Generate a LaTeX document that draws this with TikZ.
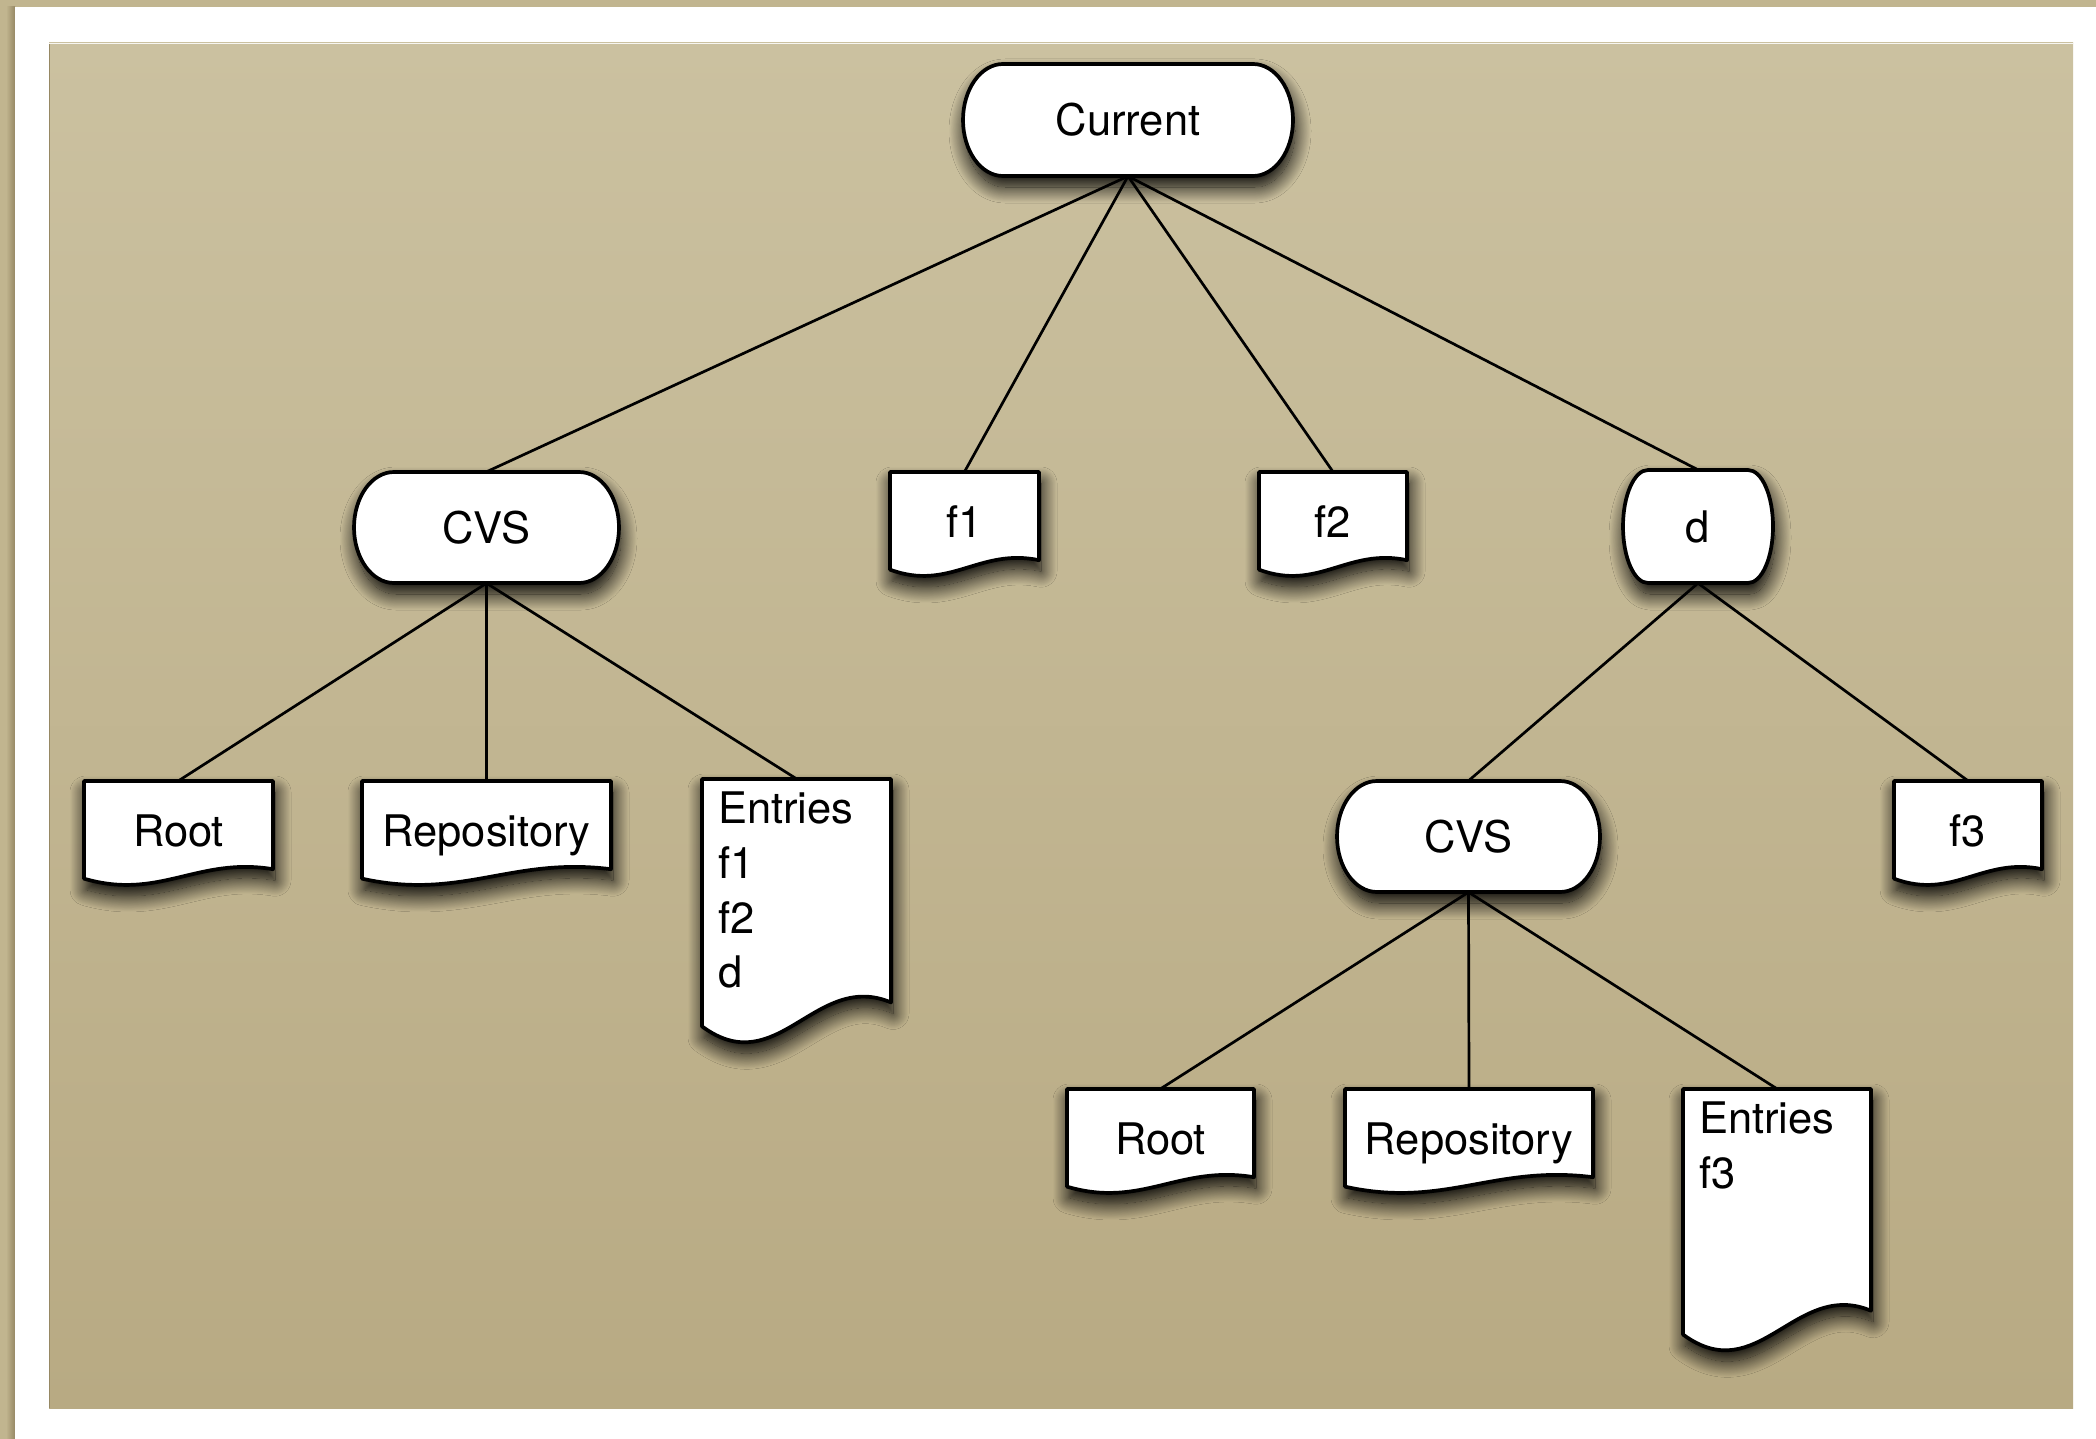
\documentclass[tikz,border=0pt]{standalone}
\usepackage{fontspec}
\setmainfont{TeX Gyre Heros}
\usetikzlibrary{shadows.blur}

\definecolor{paneltop}{RGB}{203,193,160}
\definecolor{panelbottom}{RGB}{184,170,131}
\definecolor{rimtan}{RGB}{193,181,143}
\definecolor{rimdark}{RGB}{150,136,100}

\newcommand\treefont{\fontsize{43.5}{54.7}\selectfont}

\tikzset{
  outline/.style={draw=black, line width=3.7pt, fill=white, line join=round,
    blur shadow={shadow xshift=2pt, shadow yshift=-11pt, shadow blur radius=16pt,
      shadow opacity=100, shadow blur steps=24}},
  link/.style={draw=black, line width=2.7pt},
  holder/.style={rectangle, draw=none, inner sep=0pt, font=\treefont,
    text height=31pt, text depth=0pt},
  docholder/.style={holder, text depth=5pt},
  listtext/.style={anchor=north west, align=left, inner sep=0pt, font=\treefont},
}

% document sheet with a wavy lower edge: centre (#1,#2), width #3, height #4
\newcommand\docsheet[4]{%
  \path[outline] ({#1-#3/2},{#2-#4/2}) -- ({#1+#3/2},{#2-#4/2})
    -- ({#1+#3/2},{#2-#4/2+0.84*#4})
    .. controls ({#1+#3/2-0.4*#3},{#2-#4/2+0.72*#4})
           and ({#1-#3/2+0.4*#3},{#2-#4/2+1.14*#4}) ..
    ({#1-#3/2},{#2-#4/2+0.93*#4}) -- cycle;}

% rounded box with quarter-ellipse ends: centre (#1,#2), width #3, height #4, end radius #5
\newcommand\pillbox[5]{%
  \path[outline] ({#1-#3/2+#5},{#2-#4/2}) -- ({#1+#3/2-#5},{#2-#4/2})
    .. controls ({#1+#3/2-0.4477*#5},{#2-#4/2}) and ({#1+#3/2},{#2-0.5523*#4/2}) .. ({#1+#3/2},#2)
    .. controls ({#1+#3/2},{#2+0.5523*#4/2}) and ({#1+#3/2-0.4477*#5},{#2+#4/2}) .. ({#1+#3/2-#5},{#2+#4/2})
    -- ({#1-#3/2+#5},{#2+#4/2})
    .. controls ({#1-#3/2+0.4477*#5},{#2+#4/2}) and ({#1-#3/2},{#2+0.5523*#4/2}) .. ({#1-#3/2},#2)
    .. controls ({#1-#3/2},{#2-0.5523*#4/2}) and ({#1-#3/2+0.4477*#5},{#2-#4/2}) .. ({#1-#3/2+#5},{#2-#4/2})
    -- cycle;}

% name, centre x, centre y, width, height, text
\newcommand\docnode[6]{%
  \docsheet{#2}{#3}{#4}{#5}%
  \node[docholder, minimum width=#4pt, minimum height=#5pt] (#1) at (#2,#3) {#6};}
% name, centre x, centre y, width, height, end radius, text
\newcommand\pillnode[7]{%
  \pillbox{#2}{#3}{#4}{#5}{#6}%
  \node[holder, minimum width=#4pt, minimum height=#5pt] (#1) at (#2,#3) {#7};}

\begin{document}
\begin{tikzpicture}[x=1pt,y=-1pt]
\useasboundingbox (0,0) rectangle (2096,1439);

% page, frame and paper panel
\fill[rimtan] (0,0) rectangle (2096,1439);
\shade[left color=rimtan, right color=rimdark] (6,7) rectangle (15,1439);
\fill[white] (15,7) rectangle (2096,1439);
\shade[top color=paneltop, bottom color=panelbottom] (49,43) rectangle (2073,1408);
\draw[rimdark, line width=1.5pt] (49.7,43) -- (49.7,1408);
\draw[white!85!paneltop, line width=1.2pt] (49,43.6) -- (2073,43.6);

% tree nodes
\pillnode{cur}{1128}{120}{330}{112}{40}{Current}
\pillnode{cvsA}{486.5}{527.5}{265}{111}{40}{CVS}
\docnode{fA}{964.5}{524.5}{149}{105}{f1}
\docnode{fB}{1333}{524.5}{148}{105}{f2}
\pillnode{dir}{1698}{526.5}{150}{113}{25}{d}

\docnode{rootA}{178.5}{833.5}{189}{105}{Root}
\docnode{repoA}{486.5}{833.5}{249}{105}{Repository}
\docsheet{796.5}{912}{189}{266}
\node[rectangle, draw=none, inner sep=0pt, minimum width=189pt, minimum height=266pt] (entA) at (796.5,912) {};
\node[listtext] (entAtext) at ([xshift=16pt,yshift=-13pt]entA.north west) {Entries\\f1\\f2\\d};

\pillnode{cvsB}{1468.5}{836.5}{263}{111}{40}{CVS}
\docnode{fC}{1968}{833.5}{148}{105}{f3}

\docnode{rootB}{1160.5}{1141.5}{187}{105}{Root}
\docnode{repoB}{1469}{1141.5}{248}{105}{Repository}
\docsheet{1777}{1221}{188}{264}
\node[rectangle, draw=none, inner sep=0pt, minimum width=188pt, minimum height=264pt] (entB) at (1777,1221) {};
\node[listtext] (entBtext) at ([xshift=16pt,yshift=-13pt]entB.north west) {Entries\\f3};

% connectors
\draw[link] (cur.south) -- (cvsA.north);
\draw[link] (cur.south) -- (fA.north);
\draw[link] (cur.south) -- (fB.north);
\draw[link] (cur.south) -- (dir.north);
\draw[link] (cvsA.south) -- (rootA.north);
\draw[link] (cvsA.south) -- (repoA.north);
\draw[link] (cvsA.south) -- (entA.north);
\draw[link] (dir.south) -- (cvsB.north);
\draw[link] (dir.south) -- (fC.north);
\draw[link] (cvsB.south) -- (rootB.north);
\draw[link] (cvsB.south) -- (repoB.north);
\draw[link] (cvsB.south) -- (entB.north);
\end{tikzpicture}
\end{document}
